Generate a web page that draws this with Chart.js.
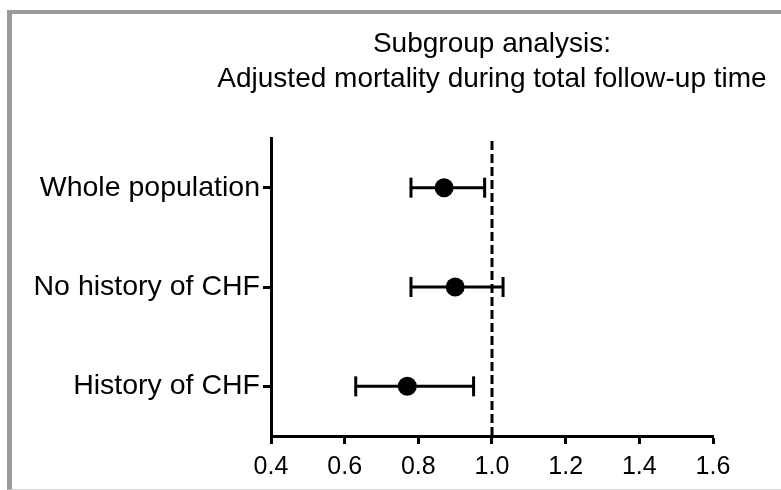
<!DOCTYPE html>
<html>
<head>
<meta charset="utf-8">
<script src="https://cdn.jsdelivr.net/npm/chart.js@4.4.0/dist/chart.umd.min.js"></script>
<style>
    html, body { margin: 0; padding: 0; background: #fff; }
    body { width: 781px; height: 490px; position: relative; overflow: hidden; }
    #frame {
        position: absolute; left: 7px; top: 10px; width: 800px; height: 475px;
        border-left: 5px solid #9b9b9b; border-top: 4px solid #9b9b9b; border-bottom: 1px solid #d4d4d4;
    }
    #wrap { position: absolute; left: 0; top: 0; width: 781px; height: 490px; }
</style>
</head>
<body>
<div id="frame"></div>
<div id="wrap"><canvas id="forestChart" width="781" height="490"></canvas></div>
<script>
// forest plot - subgroup analysis, adjusted mortality
const categories = ['Whole population', 'No history of CHF', 'History of CHF'];
const estimates = [0.87, 0.90, 0.77];
const lowerCI = [0.78, 0.78, 0.63];
const upperCI = [0.98, 1.03, 0.95];
const xTicks = [0.4, 0.6, 0.8, 1.0, 1.2, 1.4, 1.6];
const refValue = 1.0;
const titleLines = ['Subgroup analysis:', 'Adjusted mortality during total follow-up time'];

const FONT = '"Liberation Sans", Arial, sans-serif';

// rows are placed top to bottom on a 0..n linear scale
function rowY(i) {
    return categories.length - 0.5 - i;
}

// title is centred over the plot area, not the whole canvas
const titlePlugin = {
    id: 'plotTitle',
    afterDraw(chart) {
        const { ctx, chartArea } = chart;
        const cx = (chartArea.left + chartArea.right) / 2;
        ctx.save();
        ctx.font = '28px ' + FONT;
        ctx.fillStyle = '#000';
        ctx.textAlign = 'center';
        ctx.textBaseline = 'middle';
        titleLines.forEach((line, i) => ctx.fillText(line, cx, 44 + i * 35));
        ctx.restore();
    }
};

const datasets = [];

// point estimates
datasets.push({
    label: 'Estimate',
    data: estimates.map((v, i) => ({ x: v, y: rowY(i) })),
    pointRadius: 9.5,
    pointBackgroundColor: '#000',
    pointBorderColor: '#000',
    pointBorderWidth: 0,
    order: 0
});

// confidence intervals with end caps
categories.forEach((cat, i) => {
    datasets.push({
        label: cat + ' CI',
        data: [{ x: lowerCI[i], y: rowY(i) }, { x: upperCI[i], y: rowY(i) }],
        showLine: true,
        borderColor: '#000',
        borderWidth: 3,
        pointStyle: 'line',
        pointRotation: 90,
        pointRadius: 10,
        pointBorderWidth: 3,
        pointBorderColor: '#000',
        order: 1
    });
});

// reference line at 1.0
datasets.push({
    label: 'Reference',
    data: [{ x: refValue, y: 0 }, { x: refValue, y: categories.length }],
    showLine: true,
    borderColor: '#000',
    borderWidth: 3,
    borderDash: [9, 4],
    pointRadius: 0,
    order: 2
});

new Chart(document.getElementById('forestChart').getContext('2d'), {
    type: 'scatter',
    data: { datasets: datasets },
    plugins: [titlePlugin],
    options: {
        responsive: false,
        animation: false,
        layout: { padding: { top: 138, right: 68, bottom: 0, left: 0 } },
        plugins: {
            legend: { display: false },
            tooltip: { enabled: false }
        },
        scales: {
            x: {
                type: 'linear',
                min: xTicks[0],
                max: xTicks[xTicks.length - 1],
                afterBuildTicks: scale => { scale.ticks = xTicks.map(v => ({ value: v })); },
                afterFit: scale => { scale.height = 54; },
                ticks: {
                    color: '#000',
                    font: { family: FONT, size: 25 },
                    padding: 8,
                    callback: value => Number(value).toFixed(1)
                },
                grid: { drawOnChartArea: false, drawTicks: true, tickLength: 8, tickWidth: 3, tickColor: '#000' },
                border: { display: true, color: '#000', width: 3 }
            },
            y: {
                type: 'linear',
                min: 0,
                max: categories.length,
                afterBuildTicks: scale => { scale.ticks = categories.map((c, i) => ({ value: rowY(i) })); },
                afterFit: scale => { scale.width = 271; },
                ticks: {
                    color: '#000',
                    font: { family: FONT, size: 28.5 },
                    padding: 3,
                    callback: value => {
                        const idx = categories.findIndex((c, i) => rowY(i) === value);
                        return idx >= 0 ? categories[idx] : '';
                    }
                },
                grid: { drawOnChartArea: false, drawTicks: true, tickLength: 8, tickWidth: 3, tickColor: '#000' },
                border: { display: true, color: '#000', width: 3 }
            }
        }
    }
});
</script>
</body>
</html>
